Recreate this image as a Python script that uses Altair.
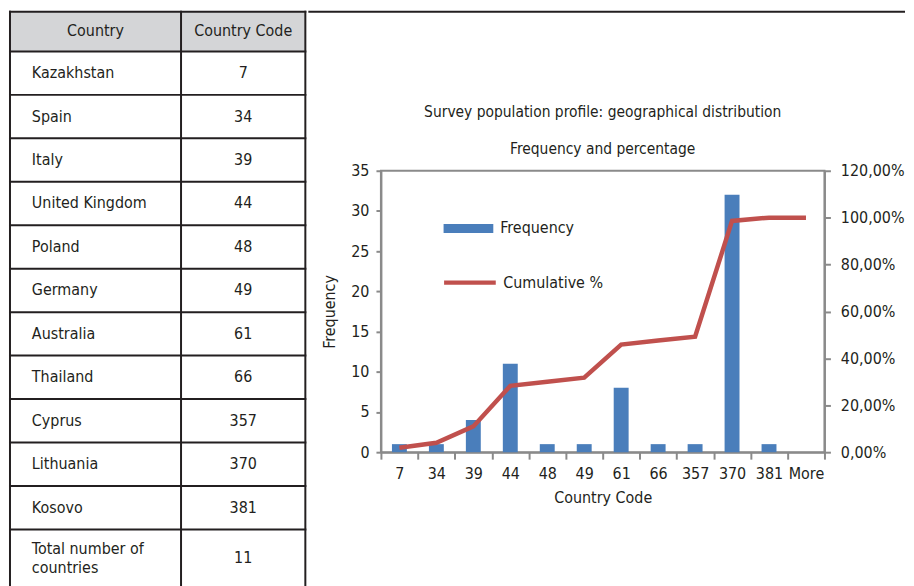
import altair as alt
import pandas as pd

# ---------------- data ----------------
table_header = ["Country", "Country Code"]
table_countries = ["Kazakhstan", "Spain", "Italy", "United Kingdom", "Poland", "Germany",
                   "Australia", "Thailand", "Cyprus", "Lithuania", "Kosovo"]
table_codes = ["7", "34", "39", "44", "48", "49", "61", "66", "357", "370", "381"]
total_label = "Total number of\ncountries"
total_value = "11"

chart_title = "Survey population profile: geographical distribution"
chart_subtitle = "Frequency and percentage"
bin_labels = ["7", "34", "39", "44", "48", "49", "61", "66", "357", "370", "381", "More"]
frequency = [1, 1, 4, 11, 1, 1, 8, 1, 1, 32, 1, 0]
cumulative_pct = [1.9, 4.0, 11.0, 28.3, 30.0, 31.8, 45.9, 47.6, 49.2, 98.6, 100.0, 100.0]
series_names = ["Frequency", "Cumulative %"]
x_title = "Country Code"
y_title = "Frequency"
freq_ticks = [0, 5, 10, 15, 20, 25, 30, 35]
pct_ticks = [0, 20, 40, 60, 80, 100, 120]

# ---------------- style / layout ----------------
FONT = "Liberation Sans Narrow, Arial Narrow, DejaVu Sans Condensed, sans-serif"
TXT = "#231f20"
LINE = "#231f20"
AXIS = "#8a8a8a"
HEADER_FILL = "#d4d5d7"
BLUE = "#4a7ebb"
RED = "#c0504d"
FS = 16

TW = 297          # table width
COL1 = 172        # first column width
TH = 590          # table height
HEAD_H = 40
ROW_H = 43.7
TEXT_X = 22

# table geometry (computed)
n = len(table_countries)
row_tops = [HEAD_H + ROW_H * i for i in range(n + 1)]
hlines = pd.DataFrame({"y": [0, HEAD_H] + row_tops[1:], "x0": 0, "x1": TW})
vlines = pd.DataFrame({"x": [0, COL1, TW], "y0": 0, "y1": TH})
header_rect = pd.DataFrame({"x0": [0], "x1": [TW], "y0": [0], "y1": [HEAD_H]})

left_text = pd.DataFrame({
    "x": [TEXT_X] * (n + 1),
    "y": [row_tops[i] + ROW_H / 2 for i in range(n)] + [row_tops[n] + 20.0],
    "t": table_countries + [total_label],
})
center_text = pd.DataFrame({
    "x": [COL1 / 2, (COL1 + TW) / 2] + [(COL1 + TW) / 2] * (n + 1),
    "y": [HEAD_H / 2, HEAD_H / 2] + [row_tops[i] + ROW_H / 2 for i in range(n)] + [row_tops[n] + 29.0],
    "t": table_header + table_codes + [total_value],
})

xs = alt.Scale(domain=[0, TW])
ys = alt.Scale(domain=[0, TH], reverse=True)

t_fill = alt.Chart(header_rect).mark_rect(color=HEADER_FILL).encode(
    x=alt.X("x0:Q", scale=xs, axis=None), x2="x1:Q",
    y=alt.Y("y0:Q", scale=ys, axis=None), y2="y1:Q")
t_h = alt.Chart(hlines).mark_rule(color=LINE, strokeWidth=2, strokeCap="square").encode(
    x=alt.X("x0:Q", scale=xs, axis=None), x2="x1:Q",
    y=alt.Y("y:Q", scale=ys, axis=None))
t_v = alt.Chart(vlines).mark_rule(color=LINE, strokeWidth=2, strokeCap="square").encode(
    x=alt.X("x:Q", scale=xs, axis=None),
    y=alt.Y("y0:Q", scale=ys, axis=None), y2="y1:Q")
t_lt = alt.Chart(left_text).mark_text(align="left", baseline="middle", fontSize=FS, color=TXT,
                                      lineBreak="\n", lineHeight=19).encode(
    x=alt.X("x:Q", scale=xs, axis=None), y=alt.Y("y:Q", scale=ys, axis=None), text="t:N")
t_ct = alt.Chart(center_text).mark_text(align="center", baseline="middle", fontSize=FS, color=TXT).encode(
    x=alt.X("x:Q", scale=xs, axis=None), y=alt.Y("y:Q", scale=ys, axis=None), text="t:N")

table = alt.layer(t_fill, t_h, t_v, t_lt, t_ct).properties(width=TW, height=TH)

# ---------------- combo chart ----------------
PW, PH = 446, 283
cdf = pd.DataFrame({"code": bin_labels, "freq": frequency, "cum": cumulative_pct,
                    "bar_series": series_names[0], "line_series": series_names[1]})

x_enc = alt.X("code:N", sort=bin_labels,
              scale=alt.Scale(paddingInner=0, paddingOuter=0),
              axis=alt.Axis(title=x_title, labelAngle=0, tickBand="extent", tickSize=7,
                            labelPadding=6, titlePadding=9))

bars = alt.Chart(cdf).mark_bar(width=15).encode(
    x=x_enc,
    y=alt.Y("freq:Q", scale=alt.Scale(domain=[0, 35], nice=False),
            axis=alt.Axis(values=freq_ticks, title=y_title, tickSize=5, labelPadding=7,
                          titlePadding=13)),
    fill=alt.Fill("bar_series:N", scale=alt.Scale(range=[BLUE]),
                  legend=alt.Legend(title=None, orient="none", legendX=63, legendY=33,
                                    symbolType="M-1,-0.18H1V0.18H-1Z", symbolSize=2500,
                                    symbolStrokeWidth=0, labelFontSize=FS, labelColor=TXT,
                                    labelFont=FONT, labelOffset=7, padding=0)),
)
line = alt.Chart(cdf).mark_line(strokeWidth=4.5).encode(
    x=x_enc,
    y=alt.Y("cum:Q", scale=alt.Scale(domain=[0, 120], nice=False),
            axis=alt.Axis(orient="right", values=pct_ticks, title=None, tickSize=6, labelPadding=10,
                          labelExpr="replace(format(datum.value, '.2f'), '.', ',') + '%'")),
    stroke=alt.Stroke("line_series:N", scale=alt.Scale(range=[RED]),
                      legend=alt.Legend(title=None, orient="none", legendX=61, legendY=84,
                                        symbolType="stroke", symbolSize=2700,
                                        symbolStrokeWidth=4.5, labelFontSize=FS, labelColor=TXT,
                                        labelFont=FONT, labelOffset=5, padding=0)),
)

combo = alt.layer(bars, line).resolve_scale(y="independent", fill="independent",
                                            stroke="independent").properties(
    width=PW, height=PH,
    view=alt.ViewBackground(stroke=AXIS, strokeWidth=2),
    title=alt.TitleParams(text=chart_title, subtitle=chart_subtitle, fontSize=15.5,
                          subtitleFontSize=15.5, fontWeight="normal", font=FONT,
                          subtitleFont=FONT, color=TXT, subtitleColor=TXT,
                          anchor="middle", offset=5, subtitlePadding=22),
)

spacer = alt.Chart(pd.DataFrame({"k": [0]})).mark_rule(
    color=LINE, strokeWidth=2, strokeCap="square").encode(
    x=alt.value(-72), x2=alt.value(526), y=alt.value(0)
).properties(width=PW, height=93)

right = alt.vconcat(spacer, combo, spacing=0)

chart = alt.hconcat(table, right, spacing=0).properties(padding=0).configure(
    font=FONT).configure_view(strokeWidth=0).configure_axis(
    grid=False, labelFont=FONT, titleFont=FONT, labelColor=TXT, titleColor=TXT,
    labelFontSize=FS, titleFontSize=FS, titleFontWeight="normal",
    domainColor=AXIS, domainWidth=2, tickColor=AXIS, tickWidth=2)

chart.save("out.html", embed_options={"renderer": "svg", "actions": False})
